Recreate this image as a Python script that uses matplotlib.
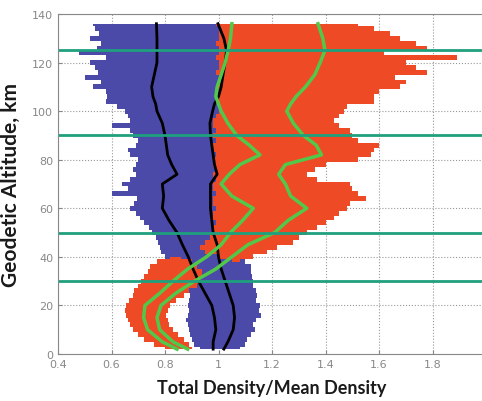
import matplotlib
matplotlib.use('Agg')
import matplotlib.pyplot as plt
import numpy as np

# altitude grid (km) for the scatter envelopes
alt = [2, 4, 6, 8, 10, 12, 14, 16, 18, 20, 22, 24, 26, 28, 30, 32, 34, 36, 38, 40,
       42, 44, 46, 48, 50, 52, 54, 56, 58, 60, 62, 64, 66, 68, 70, 72, 74, 76, 78, 80,
       82, 84, 86, 88, 90, 92, 94, 96, 98, 100, 102, 104, 106, 108, 110, 112, 114, 116, 118, 120,
       122, 124, 126, 128, 130, 132, 134, 136]

blue_lo = [0.93, 0.91, 0.90, 0.895, 0.89, 0.885, 0.88, 0.885, 0.89, 0.885, 0.89, 0.895, 0.88, 0.86, 0.85, 0.84, 0.83, 0.82, 0.81, 0.80,
           0.785, 0.78, 0.775, 0.765, 0.75, 0.74, 0.72, 0.705, 0.69, 0.67, 0.685, 0.695, 0.60, 0.66, 0.64, 0.67, 0.69, 0.68, 0.69, 0.70,
           0.67, 0.66, 0.69, 0.70, 0.68, 0.67, 0.60, 0.67, 0.66, 0.65, 0.62, 0.58, 0.585, 0.58, 0.53, 0.56, 0.50, 0.55, 0.54, 0.52,
           0.58, 0.48, 0.545, 0.56, 0.52, 0.555, 0.54, 0.53]
blue_hi = [1.08, 1.10, 1.105, 1.12, 1.135, 1.13, 1.14, 1.16, 1.15, 1.155, 1.14, 1.145, 1.14, 1.13, 1.13, 1.125, 1.12, 1.12, 1.10, 1.06,
           1.06, 1.06, 1.06, 1.06, 1.06, 1.06, 1.06, 1.06, 1.06, 1.06, 1.06, 1.06, 1.06, 1.06, 1.06, 1.06, 1.06, 1.06, 1.06, 1.06,
           1.06, 1.06, 1.06, 1.06, 1.06, 1.06, 1.06, 1.06, 1.06, 1.06, 1.06, 1.06, 1.06, 1.06, 1.06, 1.06, 1.06, 1.06, 1.06, 1.06,
           1.06, 1.06, 1.06, 1.06, 1.06, 1.06, 1.06, 1.06]

# upper red cloud (above ~38 km)
alt_r1 = alt[18:]
red1_lo = [1.05, 1.0, 0.95, 0.93, 0.95, 0.97, 0.98, 0.98, 0.99, 0.97, 0.98, 0.99, 0.98, 0.98, 0.99, 0.98, 0.98, 0.99, 0.98, 0.99,
           0.98, 0.98, 0.99, 0.98, 0.98, 0.99, 0.98, 0.99, 0.98, 0.98, 0.99, 1.0, 1.0, 0.99, 1.0, 1.0, 0.99, 1.0, 1.0, 0.99,
           1.0, 1.0, 0.99, 1.0, 1.0, 0.99, 1.0, 1.0, 1.0, 0.99]
red1_hi = [1.08, 1.13, 1.18, 1.22, 1.28, 1.30, 1.33, 1.37, 1.40, 1.43, 1.45, 1.48, 1.49, 1.55, 1.52, 1.50, 1.49, 1.37, 1.33, 1.36,
           1.40, 1.52, 1.57, 1.58, 1.60, 1.52, 1.50, 1.49, 1.45, 1.43, 1.45, 1.47, 1.48, 1.58, 1.58, 1.60, 1.68, 1.70, 1.66, 1.78,
           1.74, 1.70, 1.89, 1.62, 1.78, 1.74, 1.68, 1.64, 1.58, 1.52]

# lower red cloud (below ~40 km)
alt_r2 = alt[:20]
red2_lo = [0.80, 0.76, 0.72, 0.70, 0.68, 0.67, 0.66, 0.655, 0.65, 0.655, 0.665, 0.68, 0.685, 0.70, 0.71, 0.72, 0.735, 0.745, 0.77, 0.82]
red2_hi = [0.90, 0.89, 0.87, 0.85, 0.83, 0.815, 0.81, 0.805, 0.81, 0.82, 0.84, 0.87, 0.89, 0.92, 0.93, 0.94, 0.94, 0.92, 0.90, 0.86]

# mean profiles
alt_line = [2, 5, 10, 15, 20, 25, 30, 35, 40, 45, 50, 55, 60, 65, 70, 74, 78, 82, 86, 90,
            95, 100, 103, 106, 110, 115, 120, 125, 130, 136]
black1 = [0.98, 0.98, 0.99, 0.985, 0.975, 0.95, 0.925, 0.905, 0.887, 0.865, 0.845, 0.815, 0.79, 0.795, 0.79, 0.845, 0.825, 0.81, 0.805, 0.80,
          0.79, 0.77, 0.765, 0.755, 0.75, 0.76, 0.77, 0.77, 0.77, 0.768]
black2 = [1.02, 1.035, 1.055, 1.06, 1.055, 1.04, 1.025, 1.01, 1.0, 0.995, 0.98, 0.975, 0.97, 0.97, 0.97, 0.995, 0.985, 0.98, 0.975, 0.97,
          0.968, 0.978, 0.985, 1.0, 1.01, 1.017, 1.025, 1.03, 1.02, 0.998]
green1 = [0.845, 0.79, 0.735, 0.72, 0.725, 0.78, 0.83, 0.885, 0.955, 1.01, 1.045, 1.09, 1.13, 1.05, 1.01, 1.04, 1.08, 1.155, 1.115, 1.068,
          1.035, 1.01, 1.0, 0.99, 0.995, 1.01, 1.025, 1.036, 1.045, 1.05]
green2 = [0.885, 0.83, 0.78, 0.77, 0.785, 0.84, 0.91, 0.99, 1.05, 1.11, 1.21, 1.26, 1.33, 1.27, 1.25, 1.225, 1.25, 1.385, 1.365, 1.317,
          1.28, 1.255, 1.27, 1.29, 1.325, 1.36, 1.38, 1.398, 1.39, 1.372]

hlines = [30, 50, 90, 125]

fig = plt.figure(figsize=(4.82, 4.02), dpi=100)
ax = fig.add_axes([58/482, 47/402, 428/482, 340/402])

ax.fill_betweenx(alt, blue_lo, blue_hi, color='#4b4aa8', step='mid', lw=0)
ax.fill_betweenx(alt_r1, red1_lo, red1_hi, color='#ef4a26', step='mid', lw=0)
ax.fill_betweenx(alt_r2, red2_lo, red2_hi, color='#ef4a26', step='mid', lw=0)

ax.plot(black1, alt_line, c='black', lw=2)
ax.plot(black2, alt_line, c='black', lw=2)
ax.plot(green1, alt_line, c='#52c84a', lw=2.5)
ax.plot(green2, alt_line, c='#52c84a', lw=2.5)

for h in hlines:
    ax.axhline(h, c='#1fa07e', lw=2)

ax.set_xlim(0.4, 2.0)
ax.set_ylim(0, 140)
ax.set_xticks([0.4, 0.6, 0.8, 1.0, 1.2, 1.4, 1.6, 1.8])
ax.set_xticklabels(['0.4', '0.6', '0.8', '1', '1.2', '1.4', '1.6', '1.8'])
ax.set_yticks([0, 20, 40, 60, 80, 100, 120, 140])
ax.set_axisbelow(True)
ax.grid(True, ls=':', c='#999999', lw=0.8)
ax.tick_params(direction='in', colors='#888888', labelsize=8, length=3)
for s in ax.spines.values():
    s.set_color('#888888')

ax.set_xlabel('Total Density/Mean Density', fontsize=13, fontweight='bold',
              family=['Lato', 'DejaVu Sans'], color='#1a1a1a', labelpad=7)
ax.set_ylabel('Geodetic Altitude, km', fontsize=15, fontweight='bold',
              family=['Lato', 'DejaVu Sans'], color='#1a1a1a', labelpad=8)

fig.savefig('out.png', dpi=100)
